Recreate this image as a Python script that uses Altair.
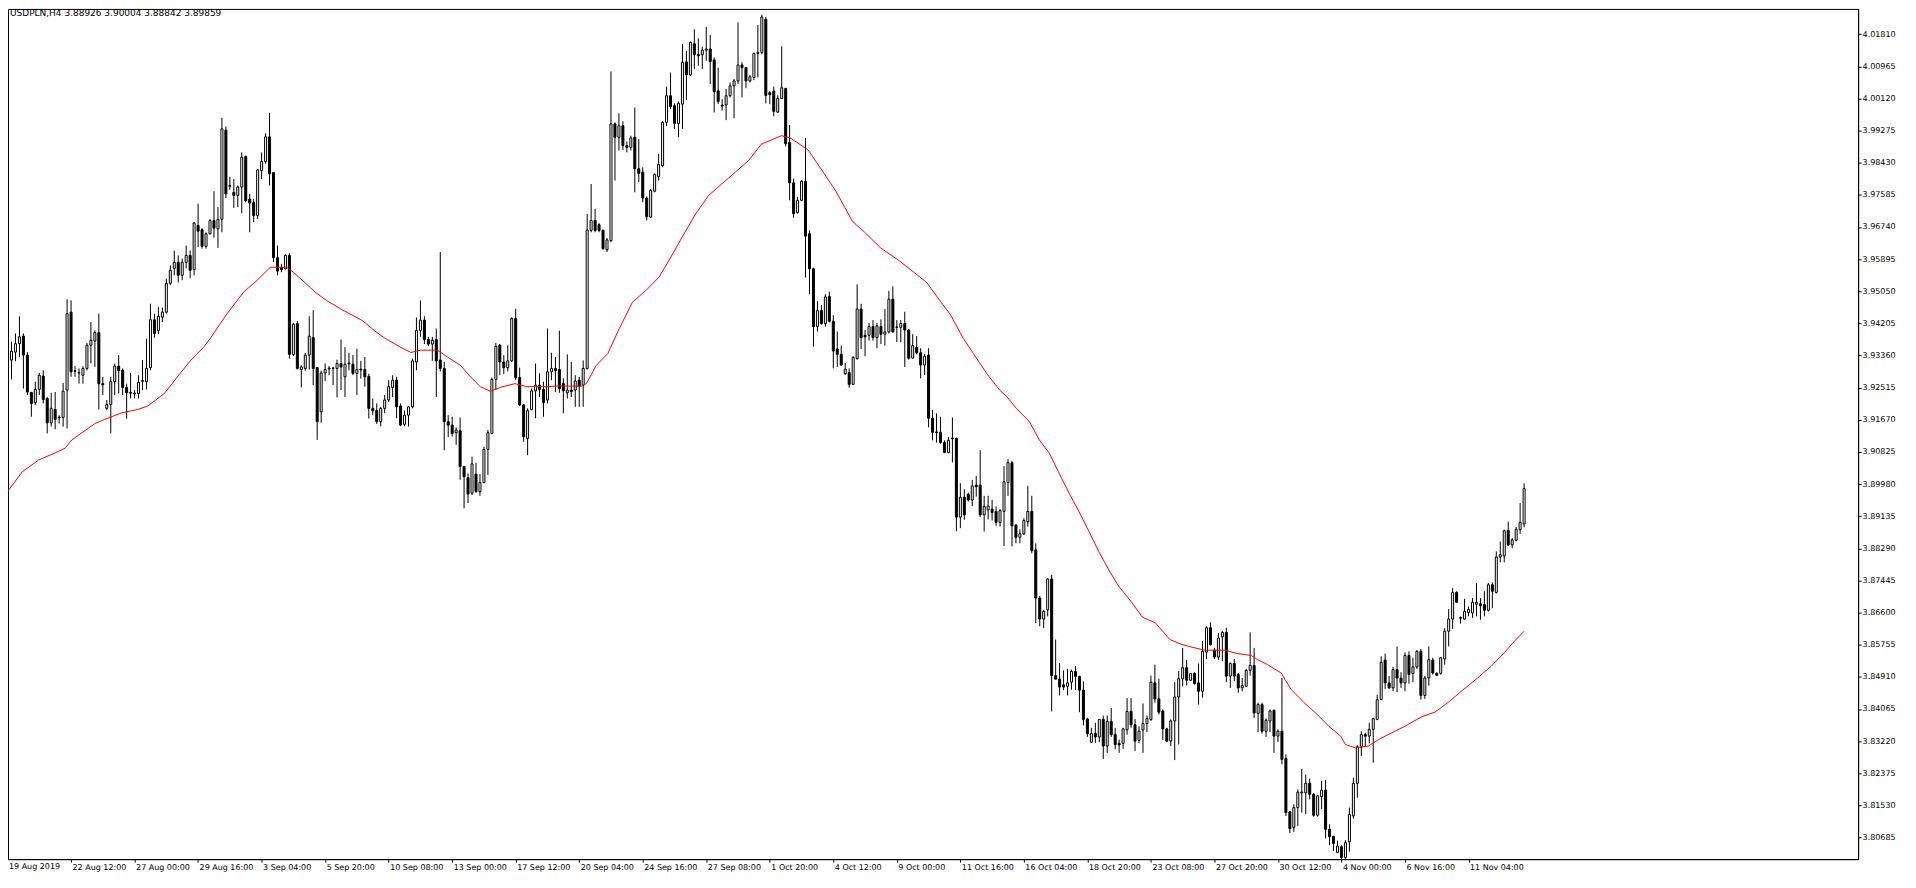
import altair as alt
import pandas as pd

# ---- OHLC values (USDPLN, H4), one entry per bar ----
opens = [
3.9367,3.9324,3.9345,3.9367,3.9387,3.9337,3.9239,3.9212,3.9247,3.9282,
3.9223,3.9159,3.9194,3.9174,3.9173,3.9245,3.9450,3.9296,3.9291,3.9284,
3.9302,3.9363,3.9374,3.9396,3.9262,3.9197,3.9207,3.9267,3.9308,3.9297,
3.9252,3.9239,3.9237,3.9236,3.9268,3.9267,3.9304,3.9430,3.9402,3.9437,
3.9450,3.9526,3.9565,3.9581,3.9547,3.9581,3.9599,3.9562,3.9678,3.9667,
3.9623,3.9656,3.9691,3.9669,3.9694,3.9929,3.9783,3.9765,3.9757,3.9779,
3.9859,3.9747,3.9738,3.9704,3.9822,3.9846,3.9911,3.9817,3.9593,3.9567,
3.9564,3.9599,3.9339,3.9420,3.9299,3.9302,3.9337,3.9383,3.9304,3.9188,
3.9290,3.9301,3.9302,3.9302,3.9315,3.9280,3.9316,3.9313,3.9289,3.9300,
3.9299,3.9281,3.9197,3.9191,3.9162,3.9197,3.9219,3.9252,3.9271,3.9203,
3.9155,3.9179,3.9201,3.9319,3.9402,3.9429,3.9378,3.9366,3.9378,3.9324,
3.9302,3.9162,3.9153,3.9133,3.9138,3.9044,3.9015,3.8974,3.9024,3.8978,
3.9002,3.9089,3.9131,3.9273,3.9363,3.9319,3.9304,3.9322,3.9433,3.9278,
3.9206,3.9118,3.9194,3.9243,3.9258,3.9247,3.9219,3.9293,3.9302,3.9299,
3.9262,3.9238,3.9245,3.9245,3.9271,3.9258,3.9302,3.9665,3.9691,3.9680,
3.9665,3.9614,3.9638,3.9945,3.9910,3.9940,3.9888,3.9883,3.9910,3.9827,
3.9818,3.9750,3.9700,3.9768,3.9806,3.9835,3.9949,4.0019,3.9993,3.9946,
3.9997,4.0108,4.0074,4.0156,4.0128,4.0127,4.0139,4.0142,4.0113,4.0032,
3.9994,3.9995,4.0019,4.0045,4.0058,4.0100,4.0093,4.0058,4.0067,4.0130,
4.0133,4.0220,4.0027,4.0031,3.9976,4.0012,4.0038,3.9896,3.9790,3.9712,
3.9744,3.9794,3.9656,3.9564,3.9412,3.9454,3.9420,3.9491,3.9426,3.9353,
3.9339,3.9288,3.9291,3.9260,3.9328,3.9458,3.9389,3.9389,3.9412,3.9383,
3.9412,3.9392,3.9398,3.9484,3.9411,3.9410,3.9420,3.9403,3.9329,3.9357,
3.9343,3.9311,3.9337,3.9171,3.9135,3.9134,3.9107,3.9081,3.9117,3.9118,
3.8911,3.8963,3.8971,3.8956,3.8995,3.8995,3.8917,3.8930,3.8932,3.8926,
3.8897,3.8926,3.9002,3.9054,3.8890,3.8858,3.8867,3.8899,3.8926,3.8825,
3.8698,3.8643,3.8667,3.8748,3.8494,3.8485,3.8470,3.8466,3.8477,3.8505,
3.8492,3.8456,3.8380,3.8319,3.8342,3.8333,3.8379,3.8309,3.8374,3.8339,
3.8316,3.8316,3.8352,3.8400,3.8365,3.8324,3.8351,3.8368,3.8379,3.8475,
3.8433,3.8401,3.8354,3.8322,3.8375,3.8438,3.8486,3.8515,3.8482,3.8500,
3.8475,3.8453,3.8556,3.8620,3.8561,3.8543,3.8596,3.8608,3.8493,3.8526,
3.8497,3.8462,3.8466,3.8508,3.8521,3.8395,3.8418,3.8348,3.8375,3.8403,
3.8335,3.8348,3.8276,3.8136,3.8095,3.8147,3.8186,3.8186,3.8211,3.8182,
3.8127,3.8176,3.8193,3.8090,3.8071,3.8029,3.8044,3.8016,3.8057,3.8125,
3.8211,3.8307,3.8339,3.8335,3.8353,3.8379,3.8431,3.8535,3.8475,3.8462,
3.8510,3.8488,3.8475,3.8547,3.8500,3.8517,3.8558,3.8442,3.8488,3.8535,
3.8500,3.8500,3.8538,3.8611,3.8643,3.8713,3.8647,3.8643,3.8660,3.8659,
3.8682,3.8683,3.8681,3.8666,3.8733,3.8713,3.8806,3.8809,3.8876,3.8838,
3.8850,3.8878,3.8893]

highs = [
3.9372,3.9372,3.9394,3.9439,3.9394,3.9345,3.9240,3.9267,3.9290,3.9297,
3.9227,3.9238,3.9240,3.9179,3.9264,3.9484,3.9481,3.9308,3.9302,3.9308,
3.9369,3.9424,3.9402,3.9446,3.9280,3.9219,3.9280,3.9315,3.9337,3.9302,
3.9262,3.9290,3.9245,3.9284,3.9324,3.9380,3.9472,3.9446,3.9464,3.9462,
3.9538,3.9573,3.9612,3.9599,3.9591,3.9625,3.9612,3.9687,3.9735,3.9671,
3.9660,3.9695,3.9768,3.9726,3.9961,3.9938,3.9806,3.9800,3.9783,3.9870,
3.9862,3.9761,3.9748,3.9827,3.9870,3.9920,3.9974,3.9818,3.9625,3.9577,
3.9602,3.9605,3.9422,3.9427,3.9310,3.9343,3.9439,3.9455,3.9306,3.9296,
3.9315,3.9308,3.9306,3.9325,3.9378,3.9358,3.9343,3.9337,3.9354,3.9322,
3.9332,3.9288,3.9223,3.9210,3.9201,3.9232,3.9271,3.9284,3.9280,3.9210,
3.9191,3.9203,3.9328,3.9436,3.9481,3.9439,3.9385,3.9385,3.9407,3.9608,
3.9319,3.9179,3.9175,3.9147,3.9173,3.9045,3.9026,3.9070,3.9054,3.9024,
3.9096,3.9140,3.9278,3.9369,3.9366,3.9337,3.9363,3.9437,3.9459,3.9304,
3.9208,3.9197,3.9249,3.9315,3.9289,3.9267,3.9407,3.9343,3.9332,3.9401,
3.9276,3.9339,3.9319,3.9284,3.9280,3.9323,3.9708,3.9787,3.9722,3.9684,
3.9667,3.9645,4.0083,3.9949,3.9973,3.9952,3.9899,3.9914,3.9988,3.9905,
3.9831,3.9754,3.9774,3.9815,3.9866,3.9953,4.0043,4.0080,3.9999,4.0004,
4.0155,4.0137,4.0162,4.0194,4.0170,4.0148,4.0200,4.0179,4.0120,4.0093,
4.0010,4.0037,4.0054,4.0063,4.0212,4.0107,4.0095,4.0074,4.0133,4.0205,
4.0232,4.0226,4.0031,4.0043,4.0020,4.0149,4.0040,3.9942,3.9801,3.9753,
3.9797,3.9908,3.9665,3.9567,3.9479,3.9469,3.9497,3.9504,3.9442,3.9399,
3.9362,3.9316,3.9302,3.9334,3.9523,3.9472,3.9403,3.9422,3.9429,3.9422,
3.9431,3.9458,3.9506,3.9518,3.9429,3.9429,3.9451,3.9405,3.9392,3.9387,
3.9355,3.9340,3.9355,3.9193,3.9184,3.9175,3.9113,3.9122,3.9173,3.9120,
3.9000,3.8984,3.8975,3.9009,3.9019,3.9087,3.8967,3.8967,3.8956,3.8939,
3.8932,3.9045,3.9063,3.9059,3.8893,3.8879,3.8908,3.8993,3.8967,3.8842,
3.8704,3.8667,3.8750,3.8759,3.8589,3.8527,3.8508,3.8512,3.8510,3.8519,
3.8494,3.8479,3.8383,3.8357,3.8370,3.8380,3.8389,3.8389,3.8409,3.8357,
3.8326,3.8357,3.8435,3.8435,3.8380,3.8361,3.8421,3.8389,3.8494,3.8523,
3.8486,3.8405,3.8357,3.8379,3.8477,3.8506,3.8567,3.8535,3.8501,3.8503,
3.8526,3.8585,3.8624,3.8634,3.8567,3.8606,3.8611,3.8620,3.8529,3.8538,
3.8501,3.8488,3.8512,3.8608,3.8567,3.8423,3.8423,3.8381,3.8405,3.8405,
3.8353,3.8488,3.8287,3.8138,3.8156,3.8195,3.8249,3.8234,3.8223,3.8185,
3.8179,3.8217,3.8220,3.8103,3.8073,3.8060,3.8048,3.8062,3.8147,3.8226,
3.8311,3.8348,3.8344,3.8370,3.8383,3.8444,3.8545,3.8552,3.8493,3.8517,
3.8571,3.8503,3.8555,3.8558,3.8541,3.8561,3.8564,3.8493,3.8571,3.8541,
3.8503,3.8543,3.8619,3.8669,3.8724,3.8716,3.8650,3.8696,3.8676,3.8698,
3.8738,3.8698,3.8716,3.8738,3.8739,3.8821,3.8847,3.8878,3.8899,3.8856,
3.8885,3.8948,3.9000]

lows = [
3.9315,3.9273,3.9321,3.9332,3.9249,3.9232,3.9175,3.9206,3.9232,3.9210,
3.9131,3.9149,3.9142,3.9157,3.9149,3.9144,3.9280,3.9280,3.9262,3.9262,
3.9297,3.9315,3.9306,3.9194,3.9232,3.9192,3.9131,3.9232,3.9236,3.9232,
3.9170,3.9223,3.9223,3.9223,3.9245,3.9247,3.9297,3.9383,3.9392,3.9424,
3.9446,3.9521,3.9547,3.9528,3.9534,3.9565,3.9539,3.9547,3.9621,3.9617,
3.9617,3.9654,3.9646,3.9619,3.9660,3.9750,3.9772,3.9724,3.9726,3.9710,
3.9739,3.9660,3.9687,3.9695,3.9800,3.9840,3.9783,3.9582,3.9547,3.9555,
3.9562,3.9328,3.9334,3.9299,3.9252,3.9296,3.9299,3.9258,3.9114,3.9159,
3.9269,3.9284,3.9258,3.9226,3.9245,3.9227,3.9297,3.9284,3.9232,3.9275,
3.9254,3.9170,3.9179,3.9156,3.9150,3.9184,3.9214,3.9227,3.9171,3.9150,
3.9150,3.9149,3.9197,3.9297,3.9385,3.9366,3.9361,3.9322,3.9227,3.9294,
3.9087,3.9121,3.9123,3.9101,3.9009,3.8934,3.8948,3.8969,3.8975,3.8967,
3.9000,3.9022,3.9129,3.9245,3.9284,3.9287,3.9294,3.9319,3.9271,3.9203,
3.9109,3.9074,3.9192,3.9171,3.9227,3.9175,3.9210,3.9271,3.9240,3.9238,
3.9184,3.9223,3.9227,3.9201,3.9201,3.9201,3.9299,3.9660,3.9660,3.9660,
3.9614,3.9608,3.9634,3.9796,3.9875,3.9876,3.9870,3.9875,3.9765,3.9792,
3.9739,3.9691,3.9698,3.9765,3.9796,3.9831,3.9940,3.9984,3.9932,3.9910,
3.9932,4.0008,4.0071,4.0089,4.0098,4.0089,4.0111,4.0050,3.9975,3.9997,
3.9980,3.9955,4.0015,3.9960,4.0050,4.0015,4.0039,4.0054,4.0060,4.0067,
4.0128,3.9999,3.9997,3.9965,3.9974,4.0011,3.9886,3.9744,3.9698,3.9709,
3.9742,3.9541,3.9497,3.9359,3.9399,3.9417,3.9412,3.9423,3.9302,3.9306,
3.9309,3.9285,3.9251,3.9259,3.9325,3.9353,3.9334,3.9375,3.9375,3.9355,
3.9366,3.9362,3.9394,3.9396,3.9371,3.9371,3.9306,3.9325,3.9328,3.9339,
3.9276,3.9285,3.9147,3.9113,3.9107,3.9104,3.9079,3.9079,3.9055,3.8874,
3.8882,3.8904,3.8952,3.8940,3.8965,3.8911,3.8873,3.8905,3.8902,3.8888,
3.8886,3.8835,3.8967,3.8834,3.8842,3.8842,3.8864,3.8886,3.8816,3.8632,
3.8624,3.8619,3.8650,3.8400,3.8484,3.8442,3.8456,3.8442,3.8457,3.8456,
3.8398,3.8363,3.8333,3.8317,3.8317,3.8319,3.8275,3.8291,3.8333,3.8300,
3.8291,3.8302,3.8339,3.8357,3.8296,3.8316,3.8291,3.8346,3.8375,3.8423,
3.8392,3.8325,3.8319,3.8309,3.8272,3.8313,3.8466,3.8468,3.8480,3.8471,
3.8418,3.8436,3.8538,3.8573,3.8538,3.8536,3.8532,3.8477,3.8462,3.8480,
3.8449,3.8453,3.8465,3.8494,3.8383,3.8346,3.8342,3.8333,3.8346,3.8291,
3.8319,3.8261,3.8125,3.8080,3.8083,3.8099,3.8134,3.8130,3.8169,3.8123,
3.8123,3.8143,3.8066,3.8048,3.8033,3.8027,3.8011,3.8007,3.8031,3.8118,
3.8173,3.8283,3.8307,3.8316,3.8265,3.8377,3.8430,3.8459,3.8459,3.8453,
3.8451,3.8462,3.8453,3.8473,3.8477,3.8512,3.8431,3.8433,3.8468,3.8497,
3.8493,3.8497,3.8523,3.8571,3.8617,3.8685,3.8631,3.8641,3.8650,3.8646,
3.8650,3.8641,3.8650,3.8663,3.8672,3.8710,3.8792,3.8792,3.8835,3.8829,
3.8847,3.8867,3.8884]

closes = [
3.9324,3.9347,3.9367,3.9385,3.9337,3.9240,3.9210,3.9247,3.9284,3.9220,
3.9159,3.9197,3.9168,3.9172,3.9242,3.9446,3.9293,3.9294,3.9290,3.9302,
3.9363,3.9376,3.9396,3.9262,3.9259,3.9207,3.9267,3.9308,3.9296,3.9252,
3.9238,3.9237,3.9235,3.9265,3.9270,3.9302,3.9430,3.9394,3.9439,3.9450,
3.9525,3.9560,3.9581,3.9547,3.9581,3.9599,3.9560,3.9684,3.9663,3.9623,
3.9656,3.9691,3.9671,3.9694,3.9932,3.9761,3.9781,3.9757,3.9779,3.9857,
3.9743,3.9737,3.9704,3.9824,3.9846,3.9911,3.9814,3.9593,3.9558,3.9562,
3.9599,3.9339,3.9418,3.9302,3.9306,3.9337,3.9387,3.9302,3.9162,3.9290,
3.9299,3.9303,3.9303,3.9315,3.9306,3.9313,3.9314,3.9289,3.9299,3.9298,
3.9280,3.9197,3.9191,3.9162,3.9197,3.9219,3.9254,3.9271,3.9201,3.9153,
3.9179,3.9201,3.9322,3.9402,3.9429,3.9378,3.9366,3.9376,3.9322,3.9302,
3.9162,3.9153,3.9131,3.9140,3.9044,3.9017,3.8972,3.9051,3.8978,3.9002,
3.9089,3.9133,3.9273,3.9360,3.9319,3.9304,3.9322,3.9433,3.9278,3.9206,
3.9122,3.9191,3.9243,3.9258,3.9247,3.9212,3.9293,3.9302,3.9296,3.9249,
3.9243,3.9245,3.9241,3.9269,3.9255,3.9302,3.9666,3.9691,3.9665,3.9665,
3.9617,3.9640,3.9945,3.9910,3.9940,3.9888,3.9883,3.9908,3.9827,3.9815,
3.9750,3.9701,3.9770,3.9812,3.9838,3.9949,4.0019,3.9990,3.9946,3.9999,
4.0107,4.0074,4.0159,4.0127,4.0124,4.0139,4.0142,4.0109,4.0030,4.0004,
3.9992,4.0019,4.0045,4.0058,4.0100,4.0093,4.0058,4.0069,4.0130,4.0133,
4.0226,4.0020,4.0022,3.9978,4.0012,4.0040,3.9893,3.9790,3.9709,3.9744,
3.9794,3.9650,3.9564,3.9412,3.9454,3.9420,3.9490,3.9426,3.9348,3.9339,
3.9311,3.9300,3.9260,3.9331,3.9458,3.9383,3.9385,3.9412,3.9383,3.9414,
3.9392,3.9398,3.9484,3.9398,3.9410,3.9420,3.9403,3.9329,3.9362,3.9343,
3.9311,3.9334,3.9171,3.9134,3.9133,3.9107,3.9081,3.9113,3.9119,3.8911,
3.8963,3.8917,3.8956,3.8993,3.8991,3.8917,3.8939,3.8940,3.8923,3.8897,
3.8928,3.9004,3.9054,3.8888,3.8858,3.8867,3.8902,3.8926,3.8823,3.8698,
3.8643,3.8663,3.8748,3.8494,3.8485,3.8464,3.8464,3.8475,3.8505,3.8492,
3.8456,3.8379,3.8342,3.8342,3.8333,3.8379,3.8309,3.8374,3.8339,3.8313,
3.8312,3.8354,3.8400,3.8365,3.8322,3.8348,3.8368,3.8381,3.8477,3.8433,
3.8398,3.8354,3.8322,3.8375,3.8438,3.8486,3.8515,3.8482,3.8500,3.8473,
3.8453,3.8558,3.8620,3.8576,3.8543,3.8593,3.8608,3.8493,3.8526,3.8493,
3.8462,3.8468,3.8508,3.8521,3.8396,3.8418,3.8348,3.8377,3.8401,3.8335,
3.8348,3.8274,3.8134,3.8092,3.8147,3.8188,3.8188,3.8211,3.8182,3.8127,
3.8178,3.8193,3.8090,3.8071,3.8053,3.8046,3.8016,3.8055,3.8129,3.8211,
3.8307,3.8339,3.8335,3.8353,3.8381,3.8431,3.8529,3.8475,3.8462,3.8510,
3.8488,3.8475,3.8547,3.8497,3.8517,3.8558,3.8442,3.8488,3.8536,3.8501,
3.8495,3.8541,3.8611,3.8643,3.8713,3.8687,3.8645,3.8663,3.8668,3.8687,
3.8687,3.8678,3.8666,3.8733,3.8716,3.8806,3.8812,3.8875,3.8838,3.8851,
3.8879,3.8897,3.8986]

# ---- moving average (red line) read at sample bar positions ----
ma_index = [0, 3.7, 7.8, 12, 14.5, 16.2, 22, 24.5, 28.7, 32.8, 35.3, 39.5, 42.8, 46.2, 49.5,
            51.2, 55.3, 59.5, 62.8, 66.2, 70.3, 72, 77.8, 80.3, 84.5, 89.5, 92.8, 95.3, 99.1,
            101.6, 104.1, 108.3, 110.8, 114.1, 116.6, 119.1, 121.6, 124.1, 127.8, 130.8, 135.8,
            139.1, 144.5, 145.8, 148.3, 151.2, 154.1, 157.4, 160.8, 164.1, 166.6, 169.9, 173.3,
            176.6, 179.9, 183.3, 186.6, 189.9, 192, 194.9, 197, 201.6, 205.8, 208.7, 212.8,
            215.8, 219.9, 224.1, 228.3, 231.6, 234.1, 237.4, 240.8, 243.3, 246.6, 249.9, 251.6,
            254.1, 257.4, 259.9, 262.4, 264.9, 267.4, 269.9, 272.4, 274.9, 277.4, 279.9, 283.3,
            285.8, 289.1, 292.8, 295.8, 299.1, 301.6, 306.6, 309.9, 313.3, 314.9, 317.4, 320.8,
            323.3, 326.6, 329.9, 332.8, 335.8, 337, 339.5, 342.8, 345.3, 348.7, 352, 356.2,
            359.5, 362.8, 366.2, 370.3, 373.7, 377, 379.5, 382]
ma_value = [3.8978, 3.9030, 3.9061, 3.9080, 3.9092, 3.9114, 3.9157, 3.9168, 3.9185, 3.9194,
            3.9203, 3.9236, 3.9280, 3.9324, 3.9359, 3.9383, 3.9446, 3.9503, 3.9533, 3.9568,
            3.9568, 3.9555, 3.9500, 3.9481, 3.9455, 3.9427, 3.9398, 3.9380, 3.9357, 3.9344,
            3.9350, 3.9350, 3.9332, 3.9310, 3.9280, 3.9254, 3.9242, 3.9252, 3.9262, 3.9254,
            3.9254, 3.9256, 3.9255, 3.9262, 3.9310, 3.9341, 3.9407, 3.9476, 3.9507, 3.9542,
            3.9586, 3.9647, 3.9708, 3.9757, 3.9787, 3.9818, 3.9848, 3.9892, 3.9901, 3.9914,
            3.9909, 3.9877, 3.9813, 3.9767, 3.9689, 3.9661, 3.9619, 3.9589, 3.9555, 3.9527,
            3.9491, 3.9445, 3.9380, 3.9341, 3.9289, 3.9245, 3.9229, 3.9197, 3.9162, 3.9114,
            3.9079, 3.9026, 3.8974, 3.8925, 3.8873, 3.8820, 3.8772, 3.8729, 3.8685, 3.8648,
            3.8633, 3.8589, 3.8576, 3.8567, 3.8561, 3.8561, 3.8552, 3.8547, 3.8536, 3.8523,
            3.8501, 3.8458, 3.8423, 3.8392, 3.8361, 3.8335, 3.8313, 3.8304, 3.8309, 3.8326,
            3.8344, 3.8361, 3.8386, 3.8398, 3.8423, 3.8453, 3.8488, 3.8519, 3.8554, 3.8584,
            3.8611]

# ---- axis ticks / labels ----
tick_index = [16, 32, 48, 64, 80, 96, 112, 128, 144, 160, 176, 192, 208, 224, 240,
              256, 272, 288, 304, 320, 336, 352, 368]
tick_labels = ["22 Aug 12:00", "27 Aug 00:00", "29 Aug 16:00", "3 Sep 04:00", "5 Sep 20:00",
               "10 Sep 08:00", "13 Sep 00:00", "17 Sep 12:00", "20 Sep 04:00", "24 Sep 16:00",
               "27 Sep 08:00", "1 Oct 20:00", "4 Oct 12:00", "9 Oct 00:00", "11 Oct 16:00",
               "16 Oct 04:00", "18 Oct 20:00", "23 Oct 08:00", "27 Oct 20:00", "30 Oct 12:00",
               "4 Nov 00:00", "6 Nov 16:00", "11 Nov 04:00"]
first_label = "19 Aug 2019"
price_ticks = [3.80685, 3.81530, 3.82375, 3.83220, 3.84065, 3.84910, 3.85755, 3.86600,
               3.87445, 3.88290, 3.89135, 3.89980, 3.90825, 3.91670, 3.92515, 3.93360,
               3.94205, 3.95050, 3.95895, 3.96740, 3.97585, 3.98430, 3.99275, 4.00120,
               4.00965, 4.01810]
header = "USDPLN,H4  3.88926 3.90004 3.88842 3.89859"

FONT = "DejaVu Sans"

candles = pd.DataFrame({
    "i": list(range(len(opens))),
    "open": opens, "high": highs, "low": lows, "close": closes,
})
ma_df = pd.DataFrame({"i": ma_index, "ma": ma_value})

xscale = alt.Scale(domain=[1.375, 464.875], nice=False, zero=False)
yscale = alt.Scale(domain=[3.80116, 4.02474], nice=False, zero=False)

label_expr = "[" + ",".join("'" + s + "'" for s in tick_labels) + "][round(datum.value / 16) - 1]"

xaxis = alt.Axis(values=tick_index, labelExpr=label_expr, orient="bottom", title=None,
                 grid=False, tickSize=3, tickColor="black", domainColor="black",
                 labelAlign="left", labelBaseline="top", labelPadding=1, labelOffset=1,
                 labelFont=FONT, labelFontSize=8, labelColor="black",
                 labelFlush=False, labelOverlap=False, labelBound=False)
yaxis = alt.Axis(values=price_ticks, format=".5f", orient="right", title=None, grid=False,
                 tickSize=3, tickColor="black", domainColor="black",
                 labelAlign="left", labelBaseline="middle", labelPadding=1,
                 labelFont=FONT, labelFontSize=8, labelColor="black",
                 labelFlush=False, labelOverlap=False, labelBound=False)

X = alt.X("i:Q", scale=xscale, axis=xaxis)

wicks = alt.Chart(candles).mark_rule(color="black", strokeWidth=1, clip=True).encode(
    x=X,
    y=alt.Y("low:Q", scale=yscale, axis=yaxis),
    y2="high:Q",
)
bodies = alt.Chart(candles).mark_bar(size=2, stroke="black", strokeWidth=1, clip=True).encode(
    x=X,
    y=alt.Y("open:Q", scale=yscale, axis=yaxis),
    y2="close:Q",
    fill=alt.condition("datum.close >= datum.open", alt.value("white"), alt.value("black")),
)
ma_line = alt.Chart(ma_df).mark_line(color="#ff0000", strokeWidth=1, clip=True).encode(
    x=X,
    y=alt.Y("ma:Q", scale=yscale, axis=yaxis),
)
title_txt = alt.Chart(pd.DataFrame({"t": [header]})).mark_text(
    align="left", baseline="top", font=FONT, fontSize=9, color="black"
).encode(x=alt.value(2), y=alt.value(0), text="t:N")
first_txt = alt.Chart(pd.DataFrame({"t": [first_label]})).mark_text(
    align="left", baseline="top", font=FONT, fontSize=8, color="black"
).encode(x=alt.value(1), y=alt.value(856), text="t:N")

chart = alt.layer(wicks, bodies, ma_line, title_txt, first_txt).properties(
    width=1854,
    height=852,
    padding={"left": 0, "top": 0, "right": 50, "bottom": 14},
    autosize=alt.AutoSizeParams(type="none"),
    background="white",
).configure_view(stroke="black", strokeWidth=1)

chart.save("out.html", embed_options={"renderer": "svg", "actions": False})
